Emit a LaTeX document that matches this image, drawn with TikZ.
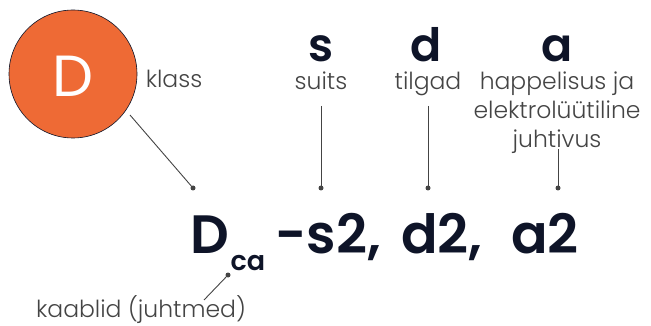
\documentclass[tikz,border=0pt]{standalone}
\usepackage{fontspec}
\setmainfont{Poppins}[BoldFont={Poppins SemiBold}]
\newfontfamily\lightfont{Poppins Light}
\definecolor{orangeD}{HTML}{EE6A35}
\definecolor{navy}{HTML}{0E1428}
\definecolor{labelgray}{HTML}{444444}
\tikzset{
  big/.style={font=\fontsize{54}{60}\selectfont\bfseries, text=navy, inner sep=0pt, anchor=base},
  sub/.style={font=\fontsize{27}{30}\selectfont\bfseries, text=navy, inner sep=0pt, anchor=base},
  top/.style={font=\fontsize{46}{50}\selectfont\bfseries, text=navy, inner sep=0pt, anchor=base},
  lbl/.style={font=\lightfont\fontsize{23.5}{29}\selectfont, text=labelgray, inner sep=0pt, anchor=base},
  lead/.style={draw=labelgray, line width=0.9pt},
  dot/.style={circle, fill=labelgray, inner sep=0pt, minimum size=5pt},
}
\begin{document}
\begin{tikzpicture}[x=1pt,y=-1pt]
\useasboundingbox (0,0) rectangle (651,326);
% class circle
\node[circle, draw=navy, line width=0.6pt, fill=orangeD, minimum size=128pt, inner sep=0pt] (circ) at (73,74) {};
\node[font=\fontsize{58}{60}\selectfont, text=white, inner sep=0pt, anchor=base] (cD) at (73,97) {D};
\node[lbl] (klass) at (174,88) {klass};
% main code
\node[big] (D) at (210,253) {D};
\node[sub] (ca) at (248,270) {ca};
\node[big] (s2) at (328,253) {-s2,};
\node[big] (d2) at (442,253) {d2,};
\node[big] (a2) at (545,253) {a2};
% top letters
\node[top] (s) at (321,62) {s};
\node[top] (d) at (426,62) {d};
\node[top] (a) at (557,62) {a};
% labels
\node[lbl] (suits) at (321,90) {suits};
\node[lbl] (tilgad) at (428,90) {tilgad};
\node[lbl] (happ1) at (557,90) {happelisus ja};
\node[lbl] (happ2) at (557,119) {elektrolüütiline};
\node[lbl] (happ3) at (557,148) {juhtivus};
\node[lbl] (kaab) at (141,317.5) {kaablid (juhtmed)};
% dots
\node[dot] (p1) at (193,188) {};
\node[dot] (p2) at (321,188) {};
\node[dot] (p3) at (428,188) {};
\node[dot] (p4) at (558,188) {};
\node[dot] (p5) at (228,275) {};
\coordinate (c1) at (130,115);
\coordinate (c2) at (321,106);
\coordinate (c3) at (428,106);
\coordinate (c4) at (558,149);
\coordinate (c5) at (204,300);
\draw[lead] (c1) -- (p1.center);
\draw[lead] (c2) -- (p2.center);
\draw[lead] (c3) -- (p3.center);
\draw[lead] (c4) -- (p4.center);
\draw[lead] (c5) -- (p5.center);
\end{tikzpicture}
\end{document}
